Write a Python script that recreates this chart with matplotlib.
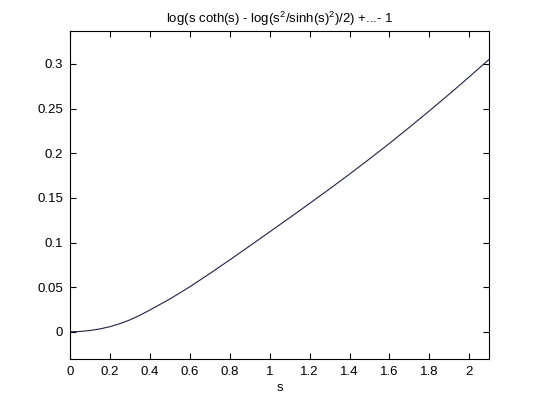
import numpy as np
import matplotlib
matplotlib.use("Agg")
import matplotlib.pyplot as plt

# values
s_vals = [0.0, 0.05, 0.1, 0.15, 0.2, 0.25, 0.3, 0.35, 0.4, 0.5, 0.6, 0.7,
          0.8, 0.9, 1.0, 1.1, 1.2, 1.3, 1.4, 1.5, 1.6, 1.7, 1.8, 1.9, 2.0, 2.1]
y_vals = [0.0, 0.0004, 0.0015, 0.0033, 0.0058, 0.0092, 0.0134, 0.0186,
          0.0245, 0.0368, 0.0505, 0.0653, 0.0806, 0.0962, 0.1120, 0.1278,
          0.1438, 0.1600, 0.1766, 0.1936, 0.2110, 0.2290, 0.2474, 0.2662,
          0.2855, 0.3052]
x_ticks = [0, 0.2, 0.4, 0.6, 0.8, 1, 1.2, 1.4, 1.6, 1.8, 2]
x_labels = ["0", "0.2", "0.4", "0.6", "0.8", "1", "1.2", "1.4", "1.6", "1.8", "2"]
y_ticks = [0, 0.05, 0.1, 0.15, 0.2, 0.25, 0.3]
y_labels = ["0", "0.05", "0.1", "0.15", "0.2", "0.25", "0.3"]

plt.rcParams['font.family'] = ['Liberation Sans', 'DejaVu Sans']
plt.rcParams['mathtext.default'] = 'regular'

fig = plt.figure(figsize=(5.4, 4.04), dpi=100)
ax = fig.add_axes([0.13, 0.111, 0.776, 0.812])

ax.plot(s_vals, y_vals, color='#202048', linewidth=0.8)

ax.set_xlim(0, 2.1)
ax.set_ylim(-0.0306, 0.3367)
ax.set_xticks(x_ticks)
ax.set_xticklabels(x_labels)
ax.set_yticks(y_ticks)
ax.set_yticklabels(y_labels)
ax.tick_params(direction='in', length=4, width=0.8, top=True, right=True,
               labelsize=9.5, pad=5, colors='black')
for sp in ax.spines.values():
    sp.set_linewidth(0.8)

ax.set_xlabel("s", fontsize=9.5, labelpad=3)
ax.set_title("log(s coth(s) - log(s$^2$/sinh(s)$^2$)/2) +...- 1",
             fontsize=9.5, pad=6)

fig.savefig("out.png", dpi=100)
